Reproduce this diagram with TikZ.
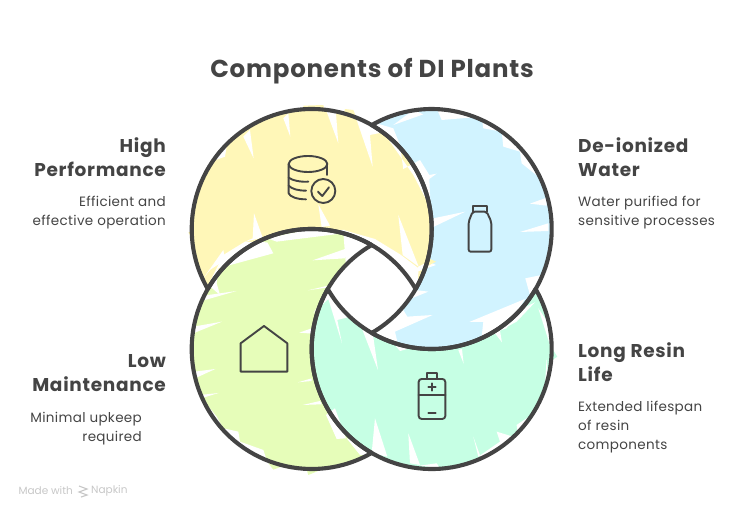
\documentclass[tikz,border=0pt]{standalone}
\usepackage{fontspec}
\setmainfont{Poppins}
\definecolor{ink}{HTML}{444444}
\definecolor{yellowfill}{HTML}{FFF7B8}
\definecolor{bluefill}{HTML}{D1F3FF}
\definecolor{greenfill}{HTML}{E6FDB9}
\definecolor{mintfill}{HTML}{C6FFE4}
\begin{document}
\begin{tikzpicture}[x=1pt,y=-1pt]
    \tikzstyle{ring}=[draw=ink,line width=4.1pt,line join=round]
    \tikzstyle{gap}=[fill=white,draw=none]
    \tikzstyle{icon}=[draw=ink,line width=1.9pt,line cap=round,line join=round]
    \tikzstyle{zoomed}=[shift={(180,95)},x=0.3333pt,y=-0.3333pt]
    \tikzstyle{titletext}=[text=ink,inner sep=0pt,font=\fontsize{24.5}{28}\selectfont\bfseries\addfontfeature{LetterSpace=3.2}]
    \tikzstyle{headtext}=[text=ink,inner sep=0pt,font=\fontsize{18.5}{24}\selectfont\bfseries\addfontfeature{LetterSpace=3.8}]
    \tikzstyle{bodytext}=[text=ink,inner sep=0pt,font=\fontsize{13.5}{19}\selectfont\addfontfeature{LetterSpace=2.5}]
    \tikzstyle{marktext}=[text=black!22,inner sep=0pt,font=\fontsize{10.5}{12}\selectfont]
    \useasboundingbox (0,0) rectangle (744,514);
    % crescents
    \def\yellowpath{(207.8,289) arc (150:390:120) arc (-30:-150:120) -- cycle}
    \def\bluepath{(371.7,125.1) arc (240:480:120) arc (60:-60:120) -- cycle}
    \def\mintpath{(535.6,289) arc (-30:210:120) arc (150:30:120) -- cycle}
    \def\greenpath{(371.7,452.9) arc (60:300:120) arc (240:120:120) -- cycle}
    \fill [bluefill] \bluepath;
    \fill [mintfill] \mintpath;
    \fill [greenfill] \greenpath;
    \fill [yellowfill] \yellowpath;
    % sketchy gaps in the fill
    \begin{scope}[zoomed]
      % yellow
      \fill [gap] (530,75) -- (578,215) -- (570,120) -- (610,112) -- (585,80) -- cycle;
      \fill [gap] (440,50) -- (475,145) -- (468,55) -- cycle;
      \fill [gap] (310,70) -- (331,125) -- (325,55) -- cycle;
      \fill [gap] (190,125) -- (221,190) -- (210,105) -- cycle;
      \fill [gap] (140,155) -- (135,185) -- (80,205) -- (90,180) -- cycle;
      \fill [gap] (222,355) -- (248,428) -- (195,440) -- (218,430) -- cycle;
      \fill [gap] (415,328) -- (450,392) -- (425,396) -- cycle;
      \fill [gap] (655,360) -- (716,515) -- (668,480) -- (662,425) -- cycle;
      \fill [gap] (490,405) -- (585,432) -- (660,478) -- (716,520) -- (712,578) -- (640,490) -- (570,448) -- (490,418) -- cycle;
      \fill [gap] (130,465) -- (135,495) -- (90,525) -- (70,550) -- cycle;
      % blue
      \fill [gap] (590,85) -- (640,100) -- (660,150) -- (670,222) -- (720,195) -- (748,240) -- (770,236) -- (748,252) -- (752,340) -- (700,240) -- (630,140) -- cycle;
      \fill [gap] (640,90) -- (730,58) -- (700,45) -- cycle;
      \fill [gap] (770,40) -- (785,75) -- (905,65) -- (910,100) -- (965,110) -- (970,155) -- (1020,170) -- (1025,205) -- (1075,245) -- (1120,300) -- (1060,110) -- (900,40) -- cycle;
      \fill [gap] (1100,308) -- (1050,326) -- (1100,332) -- cycle;
      \fill [gap] (1105,385) -- (1020,411) -- (1105,408) -- cycle;
      \fill [gap] (760,370) -- (856,350) -- (760,396) -- cycle;
      \fill [gap] (1085,540) -- (1036,550) -- (1050,600) -- (1085,570) -- cycle;
      \fill [gap] (1035,612) -- (868,681) -- (910,681) -- (905,725) -- (980,700) -- cycle;
      \fill [gap] (705,585) -- (745,590) -- (658,625) -- (682,665) -- (758,660) -- (645,710) -- (655,752) -- (600,725) -- (580,703) -- cycle;
      \fill [gap] (712,530) -- (768,510) -- (745,500) -- (715,515) -- cycle;
      % mint
      \fill [gap] (400,655) -- (445,612) -- (486,745) -- (472,675) -- (530,660) -- (594,825) -- (578,712) -- (640,745) -- (590,710) -- (535,660) -- (460,610) -- (440,590) -- cycle;
      \fill [gap] (640,745) -- (660,768) -- (690,760) -- cycle;
      \fill [gap] (835,765) -- (851,806) -- (846,762) -- cycle;
      \fill [gap] (945,715) -- (966,742) -- (955,678) -- (1065,622) -- (1010,680) -- cycle;
      \fill [gap] (1075,640) -- (1110,750) -- (1115,700) -- cycle;
      \fill [gap] (1100,790) -- (1105,870) -- (1085,950) -- (1055,960) -- (1010,990) -- (1015,1030) -- (950,1010) -- (960,1040) -- (895,1085) -- (880,1025) -- (905,1095) -- (1010,1040) -- (1090,950) -- cycle;
      \fill [gap] (685,1015) -- (720,1110) -- (690,1105) -- cycle;
      \fill [gap] (770,1105) -- (720,1112) -- (780,1120) -- cycle;
      \fill [gap] (585,970) -- (622,1085) -- (575,1075) -- cycle;
      \fill [gap] (465,940) -- (498,1030) -- (470,1032) -- (438,960) -- cycle;
      \fill [gap] (500,1030) -- (540,1080) -- (575,1080) -- (530,1040) -- cycle;
      % green
      \fill [gap] (120,600) -- (110,565) -- (115,520) -- (280,475) -- (262,442) -- (195,440) -- (130,480) -- (85,570) -- cycle;
      \fill [gap] (262,430) -- (290,440) -- (490,415) -- (495,405) -- (380,405) -- cycle;
      \fill [gap] (490,412) -- (580,445) -- (440,592) -- (450,570) -- (500,540) -- cycle;
      \fill [gap] (495,462) -- (398,496) -- (495,490) -- cycle;
      \fill [gap] (452,570) -- (384,586) -- (440,578) -- cycle;
      \fill [gap] (395,700) -- (358,713) -- (395,716) -- cycle;
      \fill [gap] (395,850) -- (354,862) -- (395,858) -- cycle;
      \fill [gap] (420,918) -- (368,930) -- (425,928) -- cycle;
      \fill [gap] (40,625) -- (170,588) -- (50,605) -- cycle;
      \fill [gap] (40,695) -- (126,680) -- (40,715) -- cycle;
      \fill [gap] (45,830) -- (106,822) -- (45,850) -- cycle;
      \fill [gap] (70,908) -- (116,894) -- (60,900) -- cycle;
      \fill [gap] (70,915) -- (110,965) -- (130,1000) -- (175,1010) -- (180,1040) -- (250,1065) -- (262,1100) -- (150,1040) -- cycle;
      % spill over the outline
      \fill [yellowfill] (370,32) -- (430,30) -- (435,50) -- (370,50) -- cycle;
      \fill [yellowfill] (495,42) -- (520,45) -- (530,70) -- (490,60) -- cycle;
      \fill [yellowfill] (25,412) -- (40,410) -- (40,440) -- cycle;
      \fill [yellowfill] (745,490) -- (768,500) -- (745,512) -- cycle;
      \fill [greenfill] (265,1105) -- (320,1110) -- (280,1124) -- cycle;
      \fill [greenfill] (380,1125) -- (460,1110) -- (385,1140) -- cycle;
      \fill [mintfill] (1110,750) -- (1132,785) -- (1110,800) -- cycle;
    \end{scope}
    % outlines
    \draw [ring] \yellowpath;
    \draw [ring] \bluepath;
    \draw [ring] \mintpath;
    \draw [ring] \greenpath;
    % icons
    \begin{scope}[zoomed]
      \draw [icon] (384,207) ellipse (58 and 24);
      \draw [icon] (326,207) -- (326,295) .. controls (330,305) and (350,313) .. (378,313);
      \draw [icon] (442,207) -- (442,240);
      \draw [icon] (326,248) .. controls (335,255) and (360,262) .. (385,260);
      \draw [icon] (326,272) .. controls (335,282) and (355,287) .. (378,287);
      \draw [icon] (430,288) circle (36);
      \draw [icon] (414,290) -- (427,303) -- (447,277);
      \draw [icon] (878,350) -- (878,333) -- (920,333) -- (920,350);
      \draw [icon,rounded corners=2pt] (878,350) -- (920,350) -- (934,380) -- (934,470) -- (866,470) -- (866,380) -- cycle;
      \draw [icon] (182,745) -- (252,693) -- (322,745) -- (322,830) -- (182,830) -- cycle;
      \draw [icon] (740,852) -- (740,833) -- (772,833) -- (772,852);
      \draw [icon,rounded corners=3pt] (716,852) rectangle (796,972);
      \draw [icon] (716,900) -- (796,900);
      \draw [icon] (745,876) -- (767,876);
      \draw [icon] (756,865) -- (756,887);
      \draw [icon] (745,953) -- (767,953);
    \end{scope}
    % texts
    \node (title) at (372,71) [titletext] {Components of DI Plants};
    \node (highhead) at (166,157) [headtext,anchor=east,align=right] {High\\Performance};
    \node (highbody) at (166,213) [bodytext,anchor=east,align=right] {Efficient and\\effective operation};
    \node (waterhead) at (578,157) [headtext,anchor=west,align=left] {De-ionized\\Water};
    \node (waterbody) at (578,213) [bodytext,anchor=west,align=left] {Water purified for\\sensitive processes};
    \node (lowhead) at (166,373) [headtext,anchor=east,align=right] {Low\\Maintenance};
    \node (lowbody) at (142,429) [bodytext,anchor=east,align=right] {Minimal upkeep\\required};
    \node (resinhead) at (578,362) [headtext,anchor=west,align=left] {Long Resin\\Life};
    \node (resinbody) at (578,427) [bodytext,anchor=west,align=left] {Extended lifespan\\of resin\\components};
    \node (madewith) at (73,491) [marktext,anchor=east] {Made with};
    \node (napkin) at (91,491) [marktext,anchor=west] {Napkin};
    \draw [black!22,line width=1.1pt] (79,486) -- (87,489) -- (79,492) -- (87,495) -- (81,497);
  \end{tikzpicture}
\end{document}
